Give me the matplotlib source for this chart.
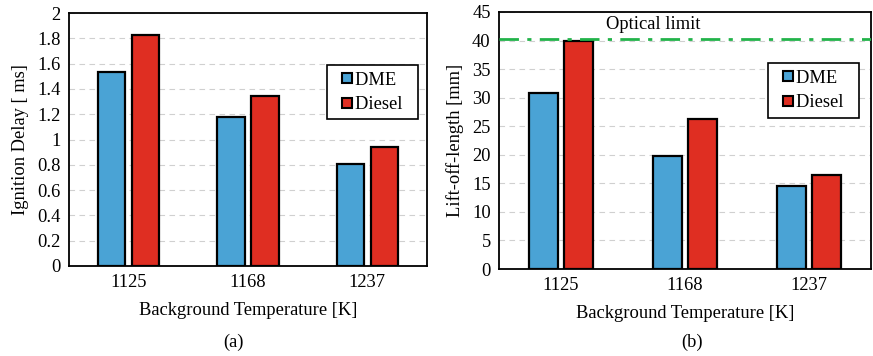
import matplotlib
matplotlib.use('Agg')
import matplotlib.pyplot as plt
from matplotlib.lines import Line2D
import numpy as np

plt.rcParams['font.family'] = ['Liberation Serif', 'DejaVu Serif']

# bar data
temps = ['1125', '1168', '1237']
fuels = ['DME', 'Diesel']
ign_dme = [1.53, 1.18, 0.81]
ign_diesel = [1.83, 1.34, 0.94]
lol_dme = [30.9, 19.7, 14.5]
lol_diesel = [39.9, 26.2, 16.4]
optical_limit = 40.2

BLUE = '#4aa3d5'
RED = '#df2e22'
GREEN = '#22b34a'
FS = 13.3

fig = plt.figure(figsize=(8.73, 3.56), dpi=100)
ax1 = fig.add_axes([69 / 873, 1 - 266 / 356, 358 / 873, 253 / 356])
ax2 = fig.add_axes([499 / 873, 1 - 269 / 356, 372 / 873, 257 / 356])

x = np.arange(len(temps))
w = 0.23
off = 0.143


def draw(ax, dme, diesel, ymax, step, ylabel, legend_anchor):
    ax.bar(x - off, dme, w, color=BLUE, edgecolor='black', linewidth=1.6, zorder=3)
    ax.bar(x + off, diesel, w, color=RED, edgecolor='black', linewidth=1.6, zorder=3)
    ax.set_xlim(-0.5, len(temps) - 0.5)
    ax.set_ylim(0, ymax)
    ax.set_yticks(np.arange(0, ymax + step / 2, step))
    ax.set_xticks(x)
    ax.set_xticklabels(temps)
    ax.yaxis.grid(True, linestyle=(0, (5, 4)), color='#d0d0d0', linewidth=0.8, zorder=0)
    ax.tick_params(length=0, labelsize=FS, pad=6)
    for s in ax.spines.values():
        s.set_linewidth(1.3)
        s.set_color('black')
    ax.set_xlabel('Background Temperature [K]', fontsize=FS, labelpad=8)
    ax.set_ylabel(ylabel, fontsize=FS, labelpad=6)

    # small square markers with wide side padding in the legend box
    handles = [Line2D([], [], linestyle='none', marker='s', markersize=7,
                      markerfacecolor=c, markeredgecolor='black', markeredgewidth=1.5)
               for c in (BLUE, RED)]
    labels = [f + '\u2002' for f in fuels]
    leg = ax.legend(handles, labels, loc='upper left', bbox_to_anchor=legend_anchor,
                    fontsize=FS, fancybox=False, framealpha=1, edgecolor='black',
                    handlelength=1.5, handletextpad=-0.33,
                    borderpad=0.35, labelspacing=0.4, borderaxespad=0)
    leg.get_frame().set_linewidth(1.2)


draw(ax1, ign_dme, ign_diesel, 2.0, 0.2, 'Ignition Delay [ ms]', (0.721, 0.794))
ax1.set_yticklabels(['0', '0.2', '0.4', '0.6', '0.8', '1', '1.2', '1.4', '1.6', '1.8', '2'])

draw(ax2, lol_dme, lol_diesel, 45, 5, 'Lift-off-length [mm]', (0.723, 0.80))
ax2.axhline(optical_limit, color=GREEN, linewidth=2.0,
            linestyle=(0, (7, 3, 1.5, 3)), zorder=4)
ax2.text(0.74, 42.8, 'Optical limit', ha='center', va='center', fontsize=FS)

fig.text(233 / 873, 1 - 342 / 356, '(a)', ha='center', va='center', fontsize=FS)
fig.text(692 / 873, 1 - 342 / 356, '(b)', ha='center', va='center', fontsize=FS)

fig.savefig('out.png', dpi=100)
